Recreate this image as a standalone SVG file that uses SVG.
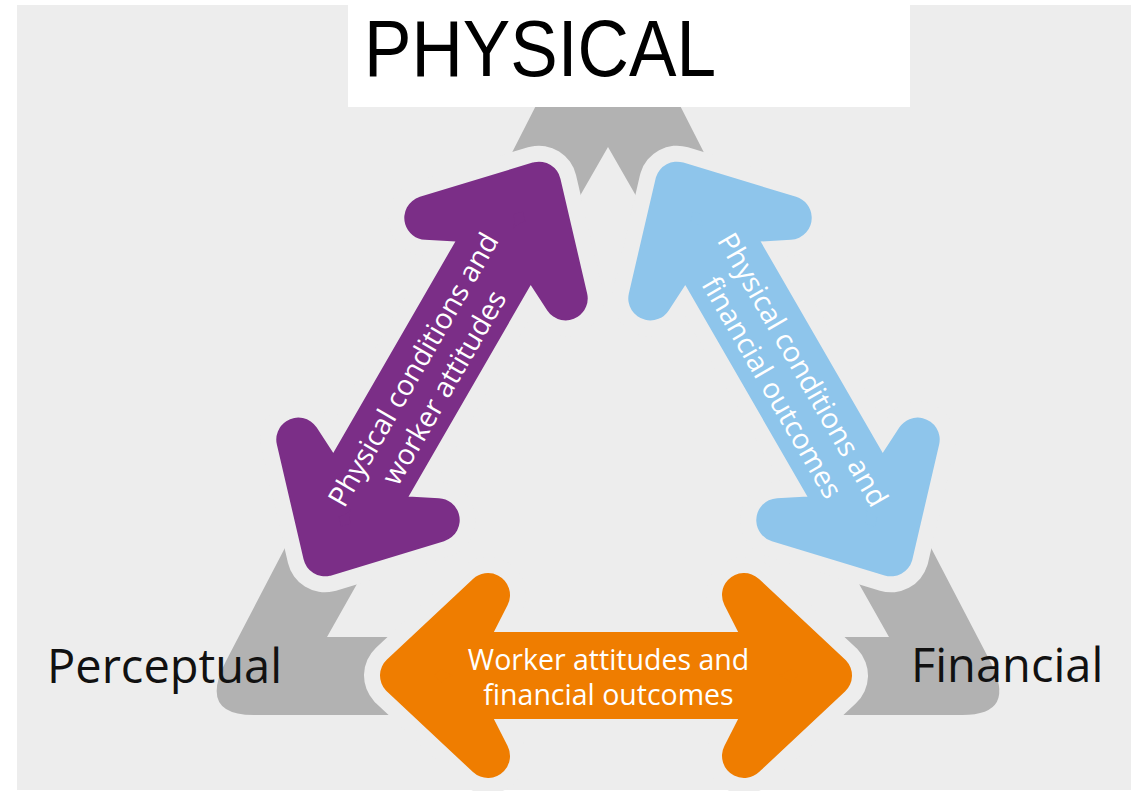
<svg xmlns="http://www.w3.org/2000/svg" xmlns:xlink="http://www.w3.org/1999/xlink" width="1131" height="791" viewBox="0 0 1131 791">
  <style>
    .corner { fill: #b2b2b2; }
    .label { font-family: "Open Sans", "Liberation Sans", sans-serif; font-size: 47px; fill: #111111; }
    .title { font-family: "Liberation Sans", Arial, sans-serif; font-size: 80px; fill: #000000; }
    .halo { fill: #ededed; stroke: #ededed; stroke-width: 76; stroke-linejoin: round; }
    .arrow { stroke-width: 44; stroke-linejoin: round; }
    .atext { font-family: "Open Sans", "Liberation Sans", sans-serif; font-size: 28.5px; fill: #ffffff; text-anchor: middle; }
  </style>
  <defs>
    <path id="arr" d="M214,0 L128,-80.5 L158,-21.5 L-158,-21.5 L-128,-80.5 L-214,0 L-128,80.5 L-158,21.5 L158,21.5 L128,80.5 Z"/>
  </defs>
  <rect x="0" y="0" width="1131" height="791" fill="#ffffff"/>
  <rect x="17" y="5" width="1114" height="785" fill="#ededed"/>

  <g id="node-physical">
    <path class="corner" d="M608,-36 L723,190 L651,222 L608,147 L565,222 L493,190 Z"/>
  </g>
  <g id="node-perceptual">
    <path class="corner" d="M300,519 L226,661 Q198,715 254,715 L420,715 L420,637 L327,637 L375,552 Z"/>
    <text class="label" x="47" y="683">Perceptual</text>
  </g>
  <g id="node-financial">
    <path class="corner" d="M916,519 L990,661 Q1018,715 962,715 L796,715 L796,637 L889,637 L841,552 Z"/>
    <text class="label" x="911" y="682">Financial</text>
  </g>

  <g id="connectors">
    <use xlink:href="#arr" class="halo" transform="translate(432,369) rotate(-60)"/>
    <use xlink:href="#arr" class="halo" transform="translate(784,369) rotate(60)"/>
    <use xlink:href="#arr" class="halo" transform="translate(616,675.5)"/>
    <g id="conn-physical-perceptual" transform="translate(432,369) rotate(-60)">
      <use xlink:href="#arr" class="arrow" fill="#7b2e87" stroke="#7b2e87"/>
      <text class="atext" x="-10" y="-6">Physical conditions and</text>
      <text class="atext" x="-10" y="29.5">worker attitudes</text>
    </g>
    <g id="conn-physical-financial" transform="translate(784,369) rotate(60)">
      <use xlink:href="#arr" class="arrow" fill="#8ec5eb" stroke="#8ec5eb"/>
      <text class="atext" x="10" y="-6">Physical conditions and</text>
      <text class="atext" x="10" y="29.5">financial outcomes</text>
    </g>
    <g id="conn-perceptual-financial" transform="translate(616,675.5)">
      <use xlink:href="#arr" class="arrow" fill="#ef7d00" stroke="#ef7d00"/>
      <text class="atext" x="-7.5" y="-5.5">Worker attitudes and</text>
      <text class="atext" x="-7.5" y="29.5">financial outcomes</text>
    </g>
  </g>

  <g id="title-box">
    <rect x="348" y="0" width="562" height="107" fill="#ffffff"/>
    <text class="title" x="364" y="76" textLength="352" lengthAdjust="spacingAndGlyphs">PHYSICAL</text>
  </g>
</svg>
